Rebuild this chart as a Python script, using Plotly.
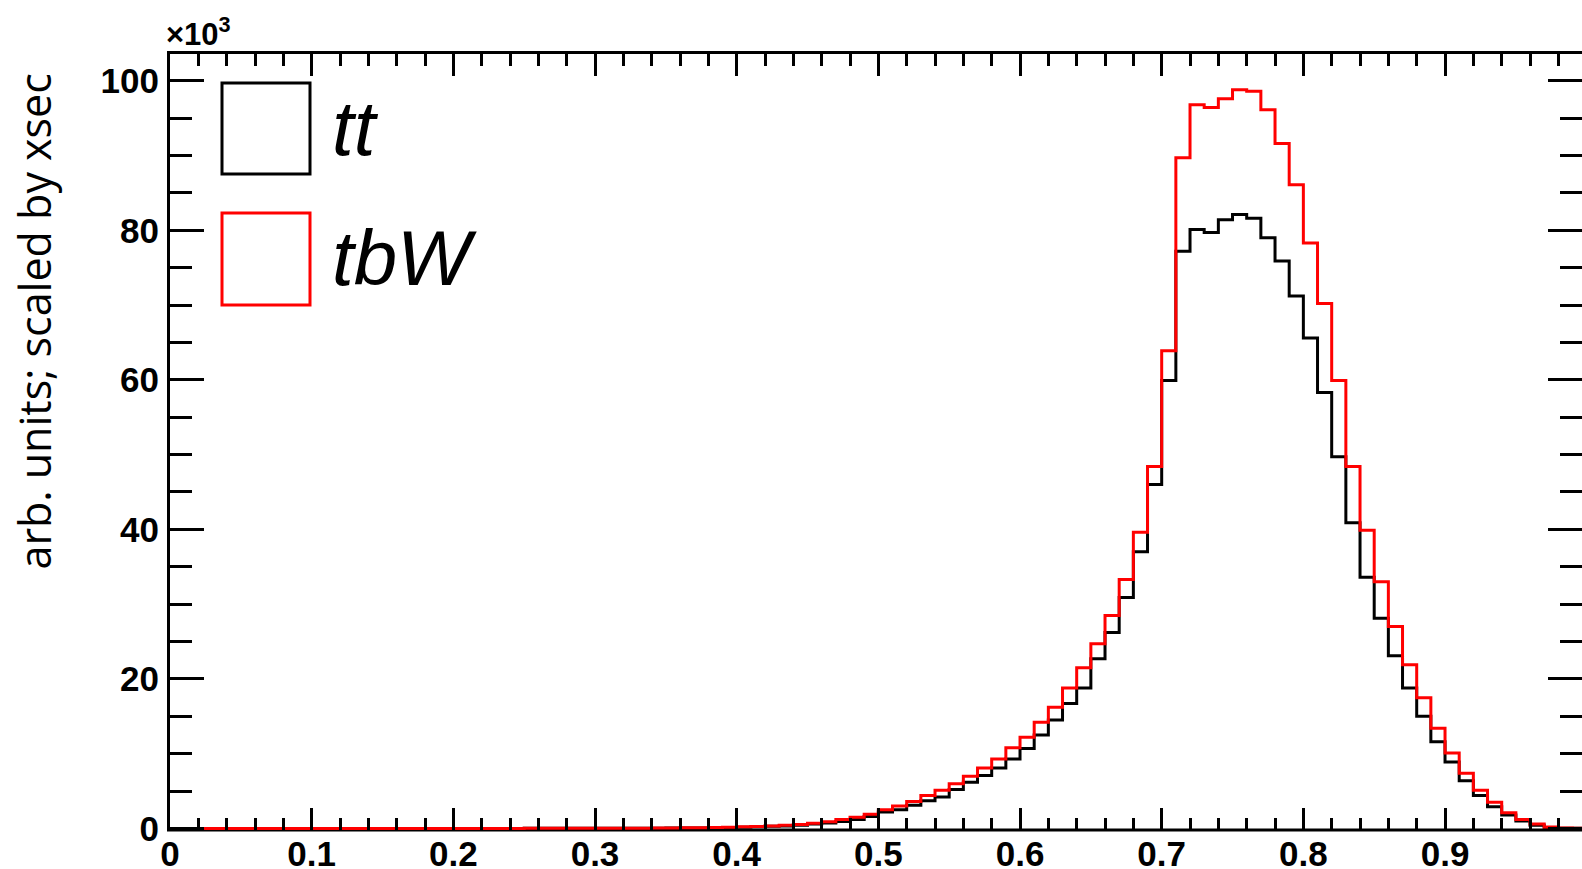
import numpy as np
import plotly.graph_objects as go

# histogram: 100 bins of width 0.01 on [0, 1]; values in units of 10^3
n_bins = 100
x_lo, x_hi = 0.0, 1.0

tt_vals = [0.0]*10 + [0.005]*10 + [0.01]*5 + [0.02]*5 + [
    0.03, 0.03, 0.04, 0.04, 0.05, 0.06, 0.07, 0.08, 0.10, 0.14,   # 30-39
    0.18, 0.22, 0.30, 0.35, 0.45, 0.6, 0.75, 0.95, 1.2, 1.6,      # 40-49
    2.2, 2.5, 3.1, 3.7, 4.2, 5.2, 6.2, 7.1, 8.1, 9.3,             # 50-59
    10.7, 12.5, 14.5, 16.7, 18.8, 22.7, 26.2, 30.9, 37.0, 46.0,   # 60-69
    59.9, 77.2, 80.1, 79.7, 81.4, 82.1, 81.6, 79.0, 75.9, 71.2,   # 70-79
    65.6, 58.3, 49.7, 40.9, 33.6, 28.1, 23.1, 18.8, 15.0, 11.6,   # 80-89
    8.9, 6.4, 4.4, 2.9, 1.8, 1.0, 0.45, 0.15, 0.05, 0.02,         # 90-99
]

tbw_vals = [0.0]*10 + [0.005]*10 + [0.01]*5 + [0.02]*5 + [
    0.03, 0.04, 0.04, 0.05, 0.06, 0.07, 0.09, 0.10, 0.13, 0.17,   # 30-39
    0.22, 0.28, 0.35, 0.45, 0.55, 0.7, 0.9, 1.2, 1.5, 1.9,        # 40-49
    2.5, 3.0, 3.6, 4.4, 5.1, 6.0, 7.0, 8.1, 9.3, 10.8,            # 50-59
    12.2, 14.2, 16.2, 18.8, 21.5, 24.7, 28.5, 33.3, 39.6, 48.4,   # 60-69
    63.9, 89.7, 96.8, 96.4, 97.6, 98.8, 98.6, 96.1, 91.6, 86.1,   # 70-79
    78.3, 70.2, 59.9, 48.4, 39.9, 33.0, 27.0, 21.9, 17.5, 13.4,   # 80-89
    10.1, 7.4, 5.1, 3.5, 2.1, 1.2, 0.6, 0.2, 0.07, 0.02,          # 90-99
]

series_names = ["tt", "tbW"]
series_colors = ["#000000", "#ff0000"]
y_title = "arb. units; scaled by xsec"
exponent_label = "×10<sup>3</sup>"

edges = np.linspace(x_lo, x_hi, n_bins + 1)

W, H = 1582, 869
L, R, T, B = 170, 0, 54, 39
pw, ph = W - L - R, H - T - B
px_per_x = 1416.7          # pixels per unit x
px_per_y = 7.478           # pixels per unit y
y0_pix_above = 1.5         # y=0 sits 1.5px above plot-area bottom
y_min = -y0_pix_above / px_per_y
y_max = y_min + ph / px_per_y

fig = go.Figure()
for name, vals, col in zip(series_names, [tt_vals, tbw_vals], series_colors):
    fig.add_trace(go.Scatter(
        x=edges, y=list(vals) + [vals[-1]], mode="lines",
        line=dict(color=col, width=3, shape="hv"), name=name,
        showlegend=False, hoverinfo="skip"))

tickfont = dict(family="Liberation Sans", size=35, color="black", weight="bold")

fig.update_xaxes(
    range=[0, pw / px_per_x], dtick=0.1, tick0=0, ticks="inside", ticklen=22,
    tickwidth=3, tickcolor="black", showline=False,
    mirror="allticks", showgrid=False, zeroline=False, tickfont=tickfont,
    ticklabelstandoff=0, automargin=False,
    minor=dict(dtick=0.02, ticks="inside", ticklen=12, tickwidth=3,
               tickcolor="black", showgrid=False))
fig.update_yaxes(
    range=[y_min, y_max], dtick=20, tick0=0, ticks="inside", ticklen=34,
    tickwidth=3, tickcolor="black", showline=False,
    mirror="allticks", showgrid=False, zeroline=False, tickfont=tickfont,
    ticklabelstandoff=10, automargin=False,
    minor=dict(dtick=5, ticks="inside", ticklen=22, tickwidth=3,
               tickcolor="black", showgrid=False))

def px2paper(x, y):
    return (x - L) / pw, (H - B - y) / ph

shapes = []
annotations = []

# frame (right edge lies outside the visible page, as in the reference)
fx0, fy1 = px2paper(168.5, 52.5)
fx1, fy0 = px2paper(1588, 830)
shapes.append(dict(type="rect", xref="paper", yref="paper", x0=fx0, x1=fx1,
                   y0=fy0, y1=fy1, line=dict(color="black", width=3),
                   fillcolor="rgba(0,0,0,0)", layer="below"))

# legend boxes + labels
box_rows = [(83, 174), (213, 305)]
text_y = [128, 258]
for (top, bot), name, col, ty in zip(box_rows, series_names, series_colors, text_y):
    x0, y1 = px2paper(222, top)
    x1, y0 = px2paper(310, bot)
    shapes.append(dict(type="rect", xref="paper", yref="paper", x0=x0, x1=x1,
                       y0=y0, y1=y1, line=dict(color=col, width=3),
                       fillcolor="rgba(0,0,0,0)"))
    ax, ay = px2paper(330, ty)
    annotations.append(dict(xref="paper", yref="paper", x=ax, y=ay, text=name,
                            showarrow=False, xanchor="left", yanchor="middle",
                            font=dict(family="Liberation Sans", size=78,
                                      color="black", style="italic")))

# exponent label
ex, ey = px2paper(164, 54)
annotations.append(dict(xref="paper", yref="paper", x=ex, y=ey, text=exponent_label,
                        showarrow=False, xanchor="left", yanchor="bottom",
                        font=dict(family="Liberation Sans", size=31, color="black",
                                  weight="bold")))
# y title
tx, ty = px2paper(33.5, 322)
annotations.append(dict(xref="paper", yref="paper", x=tx, y=ty, text=y_title,
                        showarrow=False, xanchor="center", yanchor="middle",
                        textangle=-90,
                        font=dict(family="Open Sans", size=43, color="black")))

fig.update_layout(
    width=W, height=H, margin=dict(l=L, r=R, t=T, b=B, pad=0),
    paper_bgcolor="white", plot_bgcolor="rgba(0,0,0,0)", showlegend=False,
    shapes=shapes, annotations=annotations)

fig.write_html("out.html")
